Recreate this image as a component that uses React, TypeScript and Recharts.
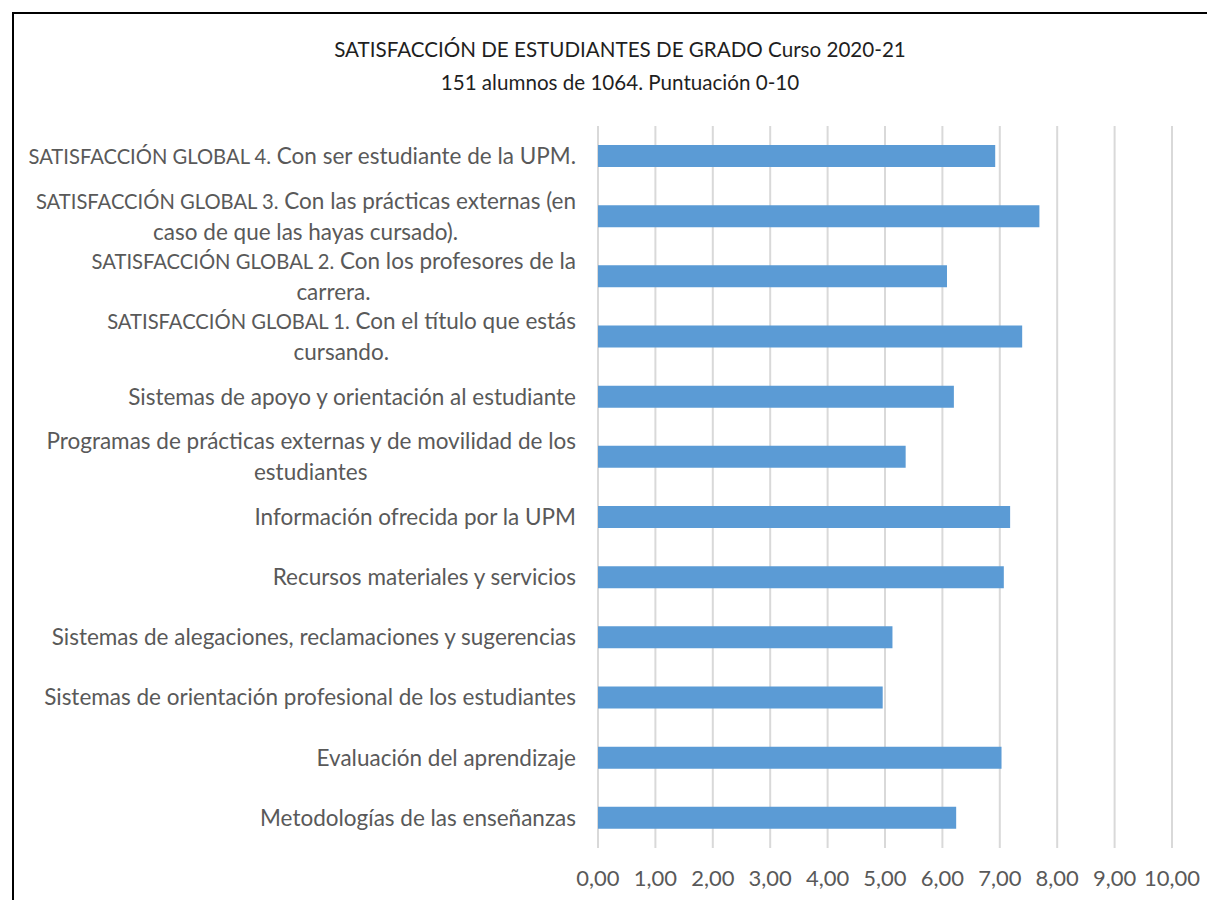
import React from "react";
import { BarChart, Bar, XAxis, YAxis, CartesianGrid } from "recharts";

const categories = [
  "SATISFACCIÓN GLOBAL 4. Con ser estudiante de la UPM.",
  "SATISFACCIÓN GLOBAL 3. Con las prácticas externas (en\ncaso de que las hayas cursado).",
  "SATISFACCIÓN GLOBAL 2. Con los profesores de la\ncarrera.",
  "SATISFACCIÓN GLOBAL 1. Con el título que estás\ncursando.",
  "Sistemas de apoyo y orientación al estudiante",
  "Programas de prácticas externas y de movilidad de los\nestudiantes",
  "Información ofrecida por la UPM",
  "Recursos materiales y servicios",
  "Sistemas de alegaciones, reclamaciones y sugerencias",
  "Sistemas de orientación profesional de los estudiantes",
  "Evaluación del aprendizaje",
  "Metodologías de las enseñanzas",
];

const scores = [6.92, 7.69, 6.08, 7.39, 6.2, 5.36, 7.18, 7.07, 5.13, 4.96, 7.03, 6.24];

const xTicks = [0, 1, 2, 3, 4, 5, 6, 7, 8, 9, 10];

const titleLines = [
  "SATISFACCIÓN DE ESTUDIANTES DE GRADO Curso 2020-21",
  "151 alumnos de 1064. Puntuación 0-10",
];

const data = categories.map((name, i) => ({ name, value: scores[i] }));

const FONT = "Lato, 'Open Sans', sans-serif";
const LABEL_SIZE = 22.5;
const CAPS_SIZE = 20.2;

let measureCtx: CanvasRenderingContext2D | null = null;
function textWidth(s: string, size: number) {
  if (!measureCtx) {
    measureCtx = document.createElement("canvas").getContext("2d");
  }
  if (!measureCtx) return s.length * size * 0.5;
  measureCtx.font = `${size}px Lato`;
  return measureCtx.measureText(s).width;
}

// Lato capitals run wider than the original's; set the leading caps a bit smaller
function splitCaps(line: string): [string, string] {
  const m = line.match(/^(SATISFACCIÓN GLOBAL \d\.)(.*)$/);
  return m ? [m[1], m[2]] : ["", line];
}

function LabelLine({ x, y, line, anchor }: { x: number; y: number; line: string; anchor: string }) {
  const [caps, rest] = splitCaps(line);
  return (
    <text x={x} y={y} dy="0.35em" textAnchor={anchor} fill="#595959" fontSize={LABEL_SIZE} fontFamily={FONT}>
      {caps ? <tspan fontSize={CAPS_SIZE}>{caps}</tspan> : null}
      <tspan>{rest}</tspan>
    </text>
  );
}

function CategoryTick(props: any) {
  const { x, y, payload } = props;
  const lines = String(payload.value).split("\n");
  const right = x - 14;
  if (lines.length === 1) {
    return <LabelLine x={right} y={y} line={lines[0]} anchor="end" />;
  }
  const [caps, rest] = splitCaps(lines[0]);
  const w = textWidth(caps, CAPS_SIZE) + textWidth(rest, LABEL_SIZE);
  const mid = right - w / 2;
  return (
    <g>
      <LabelLine x={right} y={y - 15.5} line={lines[0]} anchor="end" />
      <LabelLine x={mid} y={y + 15.5} line={lines[1]} anchor="middle" />
    </g>
  );
}

export default function App() {
  return (
    <div style={{ position: "relative", width: 1207, height: 892, background: "#fff", fontFamily: FONT }}>
      <div
        style={{
          position: "absolute",
          left: 4,
          top: 4,
          right: 0,
          bottom: 0,
          borderLeft: "2px solid #000",
          borderTop: "2px solid #000",
        }}
      />
      <div
        style={{
          position: "absolute",
          left: 0,
          top: 25,
          width: 1224,
          textAlign: "center",
          fontSize: 20.6,
          lineHeight: "33px",
          color: "#1f1f1f",
        }}
      >
        {titleLines.map((t) => (
          <div key={t}>{t}</div>
        ))}
      </div>
      <BarChart
        width={1207}
        height={892}
        data={data}
        layout="vertical"
        margin={{ top: 118, right: 43, bottom: 0, left: 0 }}
        barCategoryGap={0}
      >
        <CartesianGrid horizontal={false} vertical stroke="#d9d9d9" strokeWidth={2} />
        <XAxis
          type="number"
          domain={[0, 10]}
          ticks={xTicks}
          interval={0}
          axisLine={false}
          tickLine={false}
          tickMargin={16}
          height={52}
          tickFormatter={(v: number) => v.toFixed(2).replace(".", ",")}
          tick={{ fill: "#595959", fontSize: 22, fontFamily: FONT }}
        />
        <YAxis
          type="category"
          dataKey="name"
          width={590}
          axisLine={false}
          tickLine={false}
          interval={0}
          tick={<CategoryTick />}
        />
        <Bar dataKey="value" fill="#5b9bd5" barSize={22} isAnimationActive={false} />
      </BarChart>
    </div>
  );
}
